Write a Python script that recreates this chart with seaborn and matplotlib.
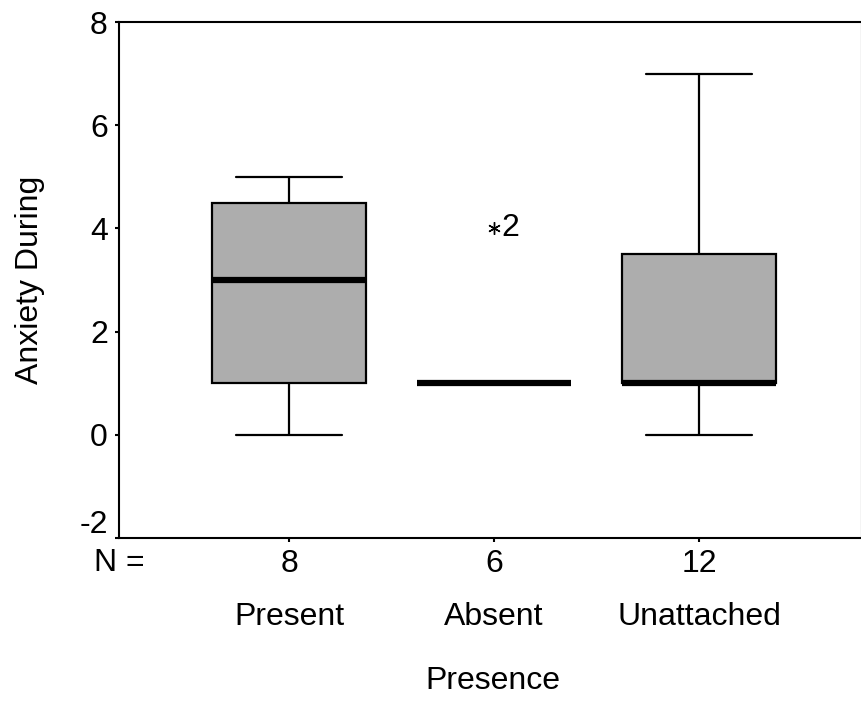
import matplotlib
matplotlib.use("Agg")
import matplotlib.pyplot as plt
import matplotlib.transforms as mtransforms
import seaborn as sns
import pandas as pd

# estimated scores per group (read off the boxes)
present = [0, 1, 1, 3, 3, 4.5, 4.5, 5]
absent = [1, 1, 1, 1, 1, 4]
unattached = [0, 1, 1, 1, 1, 1, 1, 2, 3, 5, 6, 7]
groups = ["Present", "Absent", "Unattached"]
outlier_case = "2"

df = pd.DataFrame({
    "Presence": ["Present"] * len(present) + ["Absent"] * len(absent)
    + ["Unattached"] * len(unattached),
    "Anxiety": present + absent + unattached,
})

sns.set_style("white")
plt.rcParams["font.family"] = ["Liberation Sans", "DejaVu Sans"]
plt.rcParams["axes.unicode_minus"] = False
plt.rcParams["text.color"] = "black"
plt.rcParams["axes.labelcolor"] = "black"
plt.rcParams["xtick.color"] = "black"
plt.rcParams["ytick.color"] = "black"

FS = 23

fig = plt.figure(figsize=(8.62, 7.15), dpi=100)
ax = fig.add_axes([0.138, 0.2476, 0.862, 0.7216])

sns.boxplot(data=df, x="Presence", y="Anxiety", order=groups, ax=ax,
            color="#adadad", saturation=1, width=0.75, linecolor="black",
            linewidth=1.6, whis=1.5, capwidths=0.52,
            medianprops=dict(linewidth=4.5, color="black"),
            flierprops=dict(marker=(6, 2, 0), markersize=9, markeredgewidth=1.0,
                            markeredgecolor="black"))

# case label next to the extreme value
ax.annotate(outlier_case, xy=(1, max(absent)), xytext=(5, 0),
            textcoords="offset points", ha="left", va="center", fontsize=FS)

ax.set_ylim(-2, 8)
ax.set_yticks([-2, 0, 2, 4, 6, 8])
ax.set_xlim(-0.83, 2.795)
ax.set_xticks(range(len(groups)))
ax.set_xticklabels([str(len(v)) for v in (present, absent, unattached)])
ax.tick_params(axis="both", labelsize=FS, length=3, width=1.5, color="black",
               labelcolor="black", direction="out", bottom=True, left=True)
ax.tick_params(axis="x", pad=5)
ax.tick_params(axis="y", pad=5)

# lift the bottom y label so it clears the "N =" row
lowest = ax.get_yticklabels()[0]
lowest.set_transform(lowest.get_transform()
                     + mtransforms.ScaledTranslation(0, 12 / 72, fig.dpi_scale_trans))

for s in ax.spines.values():
    s.set_color("black")
    s.set_linewidth(1.5)

trans = mtransforms.blended_transform_factory(ax.transData, fig.transFigure)
ax.text(-0.83, 1 - 563 / 715, "N =", transform=trans, ha="center",
        va="center", fontsize=FS)
for i, g in enumerate(groups):
    ax.text(i, 1 - 617 / 715, g, transform=trans, ha="center", va="center",
            fontsize=FS)

ax.set_xlabel("")
fig.text(0.572, 1 - 681 / 715, "Presence", ha="center", va="center",
         fontsize=FS)
ax.set_ylabel("")
fig.text(30 / 862, 0.6084, "Anxiety During", rotation=90, ha="center",
         va="center", fontsize=FS)

fig.savefig("out.png", dpi=100)
